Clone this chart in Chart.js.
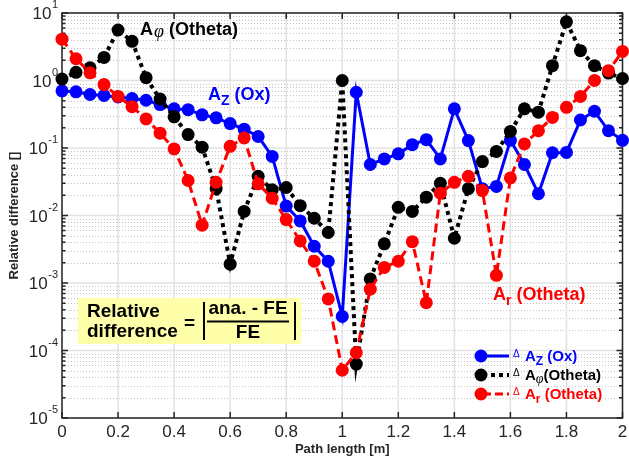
<!DOCTYPE html>
<html>
<head>
<meta charset="utf-8">
<script src="https://cdn.jsdelivr.net/npm/chart.js@4.4.1/dist/chart.umd.min.js"></script>
<style>
    html, body { margin: 0; padding: 0; background: #ffffff; }
    #chart { display: block; }
</style>
</head>
<body>
<canvas id="chart" width="629" height="462"></canvas>
<script>
const pathLength = [0, 0.05, 0.1, 0.15, 0.2, 0.25, 0.3, 0.35, 0.4, 0.45, 0.5, 0.55, 0.6, 0.65, 0.7, 0.75, 0.8, 0.85, 0.9, 0.95,
    1, 1.05, 1.1, 1.15, 1.2, 1.25, 1.3, 1.35, 1.4, 1.45, 1.5, 1.55, 1.6, 1.65, 1.7, 1.75, 1.8, 1.85, 1.9, 1.95, 2];

const diffAzOx = [0.70, 0.68, 0.62, 0.60, 0.57, 0.54, 0.51, 0.44, 0.38, 0.37, 0.31, 0.28, 0.23, 0.19, 0.148, 0.075, 0.0138, 0.0083, 0.0035, 0.0021,
    0.00032, 0.67, 0.057, 0.069, 0.082, 0.112, 0.133, 0.069, 0.38, 0.129, 0.025, 0.027, 0.13, 0.057, 0.021, 0.085, 0.086, 0.26, 0.35, 0.18, 0.13];

const diffAphiOtheta = [1.05, 1.32, 1.54, 2.2, 5.6, 3.8, 1.1, 0.53, 0.29, 0.158, 0.103, 0.025, 0.0019, 0.0115, 0.038, 0.024, 0.026, 0.014, 0.0091, 0.0056,
    1.0, 0.000063, 0.00115, 0.0038, 0.0132, 0.0115, 0.0187, 0.030, 0.0046, 0.025, 0.063, 0.089, 0.176, 0.38, 0.34, 1.66, 7.4, 2.77, 1.66, 1.29, 1.07];

const diffArOtheta = [4.1, 2.1, 1.3, 0.87, 0.58, 0.41, 0.27, 0.166, 0.097, 0.033, 0.0072, 0.031, 0.106, 0.141, 0.0295, 0.018, 0.0087, 0.0042, 0.0021, 0.00058,
    0.000051, 0.000093, 0.00081, 0.0017, 0.0021, 0.0041, 0.00051, 0.0214, 0.031, 0.038, 0.0234, 0.0013, 0.036, 0.115, 0.18, 0.284, 0.40, 0.58, 1.0, 1.4, 2.7];

const xTicks = [0, 0.2, 0.4, 0.6, 0.8, 1, 1.2, 1.4, 1.6, 1.8, 2];
const yTickExponents = [-5, -4, -3, -2, -1, 0, 1];

const sans = '"Liberation Sans", Arial, Helvetica, sans-serif';
const serif = '"Liberation Serif", "DejaVu Serif", serif';
const axisColor = "#262626";

function toPoints(values) {
    return pathLength.map((x, i) => ({ x: x, y: values[i] }));
}

function drawParts(ctx, x, y, parts, color) {
    ctx.fillStyle = color;
    ctx.textAlign = "left";
    ctx.textBaseline = "alphabetic";
    let cursor = x;
    parts.forEach((part) => {
        ctx.font = part.font;
        cursor += part.dx || 0;
        ctx.fillText(part.text, cursor, y + (part.dy || 0));
        cursor += ctx.measureText(part.text).width;
    });
}

const matlabAxes = {
    id: "matlabAxes",
    beforeDatasetsDraw(chart) {
        const { ctx, chartArea: area, scales } = chart;
        const xs = scales.x;
        const ys = scales.y;
        ctx.save();

        // minor grid, dotted
        ctx.lineWidth = 1;
        ctx.strokeStyle = "#c4c4c4";
        ctx.setLineDash([1, 2]);
        yTickExponents.slice(0, -1).forEach((exp) => {
            for (let m = 2; m <= 9; m++) {
                const py = Math.round(ys.getPixelForValue(m * Math.pow(10, exp))) + 0.5;
                ctx.beginPath();
                ctx.moveTo(area.left, py);
                ctx.lineTo(area.right, py);
                ctx.stroke();
            }
        });

        // major grid
        ctx.setLineDash([]);
        ctx.strokeStyle = "#e2e2e2";
        ctx.lineWidth = 1.5;
        yTickExponents.forEach((exp) => {
            const py = ys.getPixelForValue(Math.pow(10, exp));
            ctx.beginPath();
            ctx.moveTo(area.left, py);
            ctx.lineTo(area.right, py);
            ctx.stroke();
        });
        xTicks.forEach((t) => {
            const px = xs.getPixelForValue(t);
            ctx.beginPath();
            ctx.moveTo(px, area.top);
            ctx.lineTo(px, area.bottom);
            ctx.stroke();
        });

        // frame and inward ticks
        ctx.strokeStyle = axisColor;
        ctx.lineWidth = 1.5;
        ctx.strokeRect(area.left, area.top, area.right - area.left, area.bottom - area.top);
        ctx.beginPath();
        xTicks.forEach((t) => {
            const px = xs.getPixelForValue(t);
            ctx.moveTo(px, area.bottom);
            ctx.lineTo(px, area.bottom - 6);
            ctx.moveTo(px, area.top);
            ctx.lineTo(px, area.top + 6);
        });
        yTickExponents.forEach((exp) => {
            for (let m = 1; m <= 9; m++) {
                const v = m * Math.pow(10, exp);
                if (v > 10) {
                    break;
                }
                const py = ys.getPixelForValue(v);
                const len = m === 1 ? 6 : 3.5;
                ctx.moveTo(area.left, py);
                ctx.lineTo(area.left + len, py);
                ctx.moveTo(area.right, py);
                ctx.lineTo(area.right - len, py);
            }
        });
        ctx.stroke();

        // tick labels
        ctx.fillStyle = axisColor;
        ctx.textBaseline = "alphabetic";
        xTicks.forEach((t) => {
            const label = String(t);
            ctx.font = `17px ${sans}`;
            const w = ctx.measureText(label).width;
            let px = xs.getPixelForValue(t) - w / 2;
            px = Math.min(px, chart.width - w - 1);
            ctx.textAlign = "left";
            ctx.fillText(label, px, area.bottom + 19);
        });
        yTickExponents.forEach((exp) => {
            const py = ys.getPixelForValue(Math.pow(10, exp));
            const sup = String(exp);
            ctx.textAlign = "right";
            ctx.font = `11px ${sans}`;
            const supW = ctx.measureText(sup).width;
            ctx.fillText(sup, 58, py - 5);
            ctx.font = `17px ${sans}`;
            ctx.fillText("10", 58 - supW - 0.5, py + 6);
        });
        ctx.restore();
    },
    afterDatasetsDraw(chart) {
        const { ctx } = chart;
        ctx.save();

        const big = `bold 18px ${sans}`;
        drawParts(ctx, 140, 35, [
            { text: "A", font: big },
            { text: "\u03c6", font: `italic 18px ${serif}`, dx: 1, dy: 2 },
            { text: " (Otheta)", font: big }
        ], "#000000");
        drawParts(ctx, 208, 100, [
            { text: "A", font: big },
            { text: "Z", font: `bold 14px ${sans}`, dy: 5 },
            { text: " (Ox)", font: big }
        ], "#0000ff");
        drawParts(ctx, 493, 300, [
            { text: "A", font: big },
            { text: "r", font: `bold 14px ${sans}`, dy: 5 },
            { text: " (Otheta)", font: big }
        ], "#ff0000");

        // formula box
        ctx.fillStyle = "#ffffaa";
        ctx.fillRect(78, 298, 223, 46);
        ctx.fillStyle = "#000000";
        ctx.textAlign = "left";
        ctx.font = `bold 19px ${sans}`;
        ctx.fillText("Relative", 87, 317);
        ctx.fillText("difference", 87, 337);
        ctx.fillText("=", 184, 329);
        ctx.textAlign = "center";
        ctx.fillText("ana. - FE", 248, 314);
        ctx.fillText("FE", 248, 338);
        ctx.fillRect(207, 320.5, 82, 2);
        ctx.fillRect(203, 302, 2, 38);
        ctx.fillRect(294, 302, 2, 38);

        // legend
        const legendRows = [
            { y: 356, color: "#0000ff", dash: [], width: 3, parts: [
                { text: "A", font: `bold 15px ${sans}` },
                { text: "Z", font: `bold 12px ${sans}`, dy: 4 },
                { text: " (Ox)", font: `bold 15px ${sans}` }
            ] },
            { y: 375, color: "#000000", dash: [4, 4], width: 4, parts: [
                { text: "A", font: `bold 15px ${sans}` },
                { text: "\u03c6", font: `italic 14px ${serif}`, dy: 3 },
                { text: "(Otheta)", font: `bold 15px ${sans}` }
            ] },
            { y: 394, color: "#ff0000", dash: [8, 4], width: 3, parts: [
                { text: "A", font: `bold 15px ${sans}` },
                { text: "r", font: `bold 12px ${sans}`, dy: 4 },
                { text: " (Otheta)", font: `bold 15px ${sans}` }
            ] }
        ];
        legendRows.forEach((row) => {
            ctx.strokeStyle = row.color;
            ctx.lineWidth = row.width;
            ctx.setLineDash(row.dash);
            ctx.beginPath();
            ctx.moveTo(483, row.y);
            ctx.lineTo(509, row.y);
            ctx.stroke();
            ctx.setLineDash([]);
            ctx.fillStyle = row.color;
            ctx.beginPath();
            ctx.arc(481, row.y, 6.5, 0, Math.PI * 2);
            ctx.fill();
            ctx.font = `10px ${sans}`;
            ctx.textAlign = "left";
            ctx.fillText("\u0394", 513, row.y + 1);
            drawParts(ctx, 525, row.y + 5, row.parts, row.color);
        });

        ctx.restore();
    }
};

const lineDefaults = {
    pointRadius: 6.5,
    pointHoverRadius: 6.5,
    pointBorderWidth: 0,
    tension: 0,
    clip: false,
    fill: false
};

new Chart(document.getElementById("chart"), {
    type: "line",
    data: {
        datasets: [
            {
                ...lineDefaults,
                label: "\u0394 Ar (Otheta)",
                data: toPoints(diffArOtheta),
                borderColor: "#ff0000",
                backgroundColor: "#ff0000",
                pointBackgroundColor: "#ff0000",
                borderWidth: 3,
                borderDash: [9, 5],
                order: 0
            },
            {
                ...lineDefaults,
                label: "\u0394 A\u03c6 (Otheta)",
                data: toPoints(diffAphiOtheta),
                borderColor: "#000000",
                backgroundColor: "#000000",
                pointBackgroundColor: "#000000",
                borderWidth: 4,
                borderDash: [4, 4],
                order: 1
            },
            {
                ...lineDefaults,
                label: "\u0394 Az (Ox)",
                data: toPoints(diffAzOx),
                borderColor: "#0000ff",
                backgroundColor: "#0000ff",
                pointBackgroundColor: "#0000ff",
                borderWidth: 3,
                order: 2
            }
        ]
    },
    options: {
        responsive: false,
        animation: false,
        devicePixelRatio: 1,
        layout: { padding: { top: 13, right: 1, left: 0, bottom: 0 } },
        plugins: {
            legend: { display: false },
            tooltip: { enabled: false }
        },
        scales: {
            x: {
                type: "linear",
                min: 0,
                max: 2,
                grid: { display: false },
                border: { display: false },
                ticks: { display: false, stepSize: 0.2 },
                title: {
                    display: true,
                    text: "Path length [m]",
                    color: axisColor,
                    font: { family: sans, size: 13, weight: "bold" },
                    padding: { top: 5, bottom: 5 }
                },
                afterFit(scale) {
                    scale.height = 44;
                    scale.paddingLeft = 0;
                    scale.paddingRight = 0;
                }
            },
            y: {
                type: "logarithmic",
                min: 1e-5,
                max: 10,
                grid: { display: false },
                border: { display: false },
                ticks: { display: false },
                title: {
                    display: true,
                    text: "Relative difference []",
                    color: axisColor,
                    font: { family: sans, size: 13, weight: "bold" },
                    padding: { top: 7, bottom: 7 }
                },
                afterFit(scale) {
                    scale.width = 62;
                }
            }
        }
    },
    plugins: [matlabAxes]
});
</script>
</body>
</html>
